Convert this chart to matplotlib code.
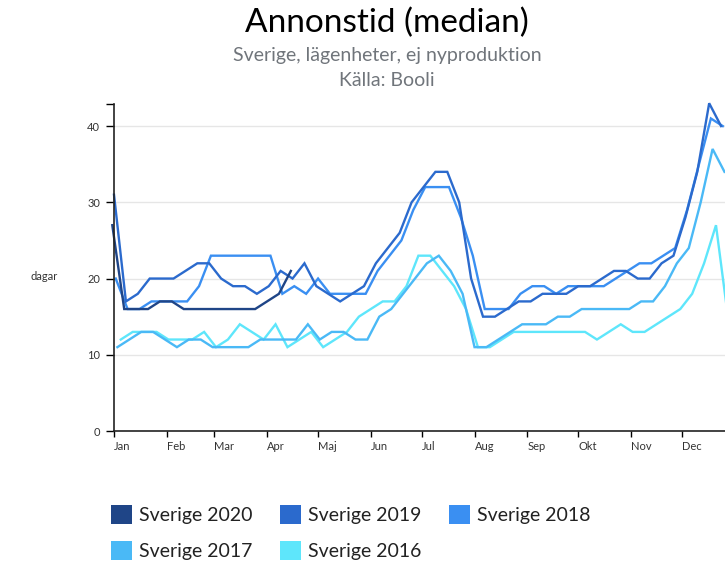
import matplotlib
matplotlib.use('Agg')
import matplotlib.pyplot as plt
import pandas as pd
from matplotlib.patches import Patch

plt.rcParams['font.family'] = ['Lato', 'DejaVu Sans']

# weekly median days on market, one value per week
names = ['Sverige 2020', 'Sverige 2019', 'Sverige 2018', 'Sverige 2017', 'Sverige 2016']
years = [2020, 2019, 2018, 2017, 2016]
first_week = ['2019-12-31', '2019-01-01', '2018-01-02', '2017-01-03', '2016-01-05']
colors = ['#1f4587', '#2b6acd', '#3a8ff2', '#4ab9f6', '#5ee6fb']

v2020 = [27, 16, 16, 16, 17, 17, 16, 16, 16, 16, 16, 16, 16, 17, 18, 21]
v2019 = [31, 17, 18, 20, 20, 20, 21, 22, 22, 20, 19, 19, 18, 19, 21, 20, 22, 19, 18, 17,
         18, 19, 22, 24, 26, 30, 32, 34, 34, 30, 20, 15, 15, 16, 17, 17, 18, 18, 18, 19,
         19, 20, 21, 21, 20, 20, 22, 23, 28, 34, 43, 40]
v2018 = [20, 16, 16, 17, 17, 17, 17, 19, 23, 23, 23, 23, 23, 23, 18, 19, 18, 20, 18, 18,
         18, 18, 21, 23, 25, 29, 32, 32, 32, 28, 23, 16, 16, 16, 18, 19, 19, 18, 19, 19,
         19, 19, 20, 21, 22, 22, 23, 24, 29, 35, 41, 40]
v2017 = [11, 12, 13, 13, 12, 11, 12, 12, 11, 11, 11, 11, 12, 12, 12, 12, 14, 12, 13, 13,
         12, 12, 15, 16, 18, 20, 22, 23, 21, 18, 11, 11, 12, 13, 14, 14, 14, 15, 15, 16,
         16, 16, 16, 16, 17, 17, 19, 22, 24, 30, 37, 34]
v2016 = [12, 13, 13, 13, 12, 12, 12, 13, 11, 12, 14, 13, 12, 14, 11, 12, 13, 11, 12, 13,
         15, 16, 17, 17, 19, 23, 23, 21, 19, 16, 11, 11, 12, 13, 13, 13, 13, 13, 13, 13,
         12, 13, 14, 13, 13, 14, 15, 16, 18, 22, 27, 15]
values = [v2020, v2019, v2018, v2017, v2016]

months = ['Jan', 'Feb', 'Mar', 'Apr', 'Maj', 'Jun', 'Jul', 'Aug', 'Sep', 'Okt', 'Nov', 'Dec']

W, H = 725, 565
fig = plt.figure(figsize=(W / 100, H / 100), dpi=100)
ax = fig.add_axes([114 / W, 1 - 431 / H, 1 - 114 / W, (431 - 104) / H])

# draw oldest first so 2020 ends up on top
for name, yr, start, col, vals in reversed(list(zip(names, years, first_week, colors, values))):
    dates = pd.date_range(start, periods=len(vals), freq='7D')
    x = (dates - pd.Timestamp(f'{yr}-01-01')).days
    ax.plot(x, vals, color=col, lw=1.7, clip_on=False, solid_joinstyle='miter')

ax.set_xlim(0, 359.3)
ax.set_ylim(0, 42.9)

month_starts = pd.date_range('2019-01-01', periods=12, freq='MS')
ax.set_xticks((month_starts - pd.Timestamp('2019-01-01')).days)
ax.set_xticklabels(months, ha='left')
ax.set_yticks([0, 10, 20, 30, 40])
ax.set_yticks([42.9], minor=True)

ax.grid(axis='y', color='#e6e6e6', lw=1)
ax.set_axisbelow(True)
for s in ['top', 'right']:
    ax.spines[s].set_visible(False)
for s in ['left', 'bottom']:
    ax.spines[s].set_color('#222222')
    ax.spines[s].set_linewidth(1.2)

ax.tick_params(axis='y', which='both', length=6, width=1, labelsize=8, pad=4, labelcolor='#333333')
ax.tick_params(axis='x', length=4.5, width=1, labelsize=8, pad=3, labelcolor='#333333')

fig.text(44 / W, 1 - 276 / H, 'dagar', ha='center', va='center', fontsize=8, color='#333333')

fig.text(387 / W, 1 - 23 / H, 'Annonstid (median)', ha='center', va='center',
         fontsize=24, color='black')
fig.text(387 / W, 1 - 56 / H, 'Sverige, lägenheter, ej nyproduktion', ha='center', va='center',
         fontsize=14, color='#70757b')
fig.text(387 / W, 1 - 81 / H, 'Källa: Booli', ha='center', va='center',
         fontsize=14, color='#70757b')

# legend is filled column by column, so reorder to read row-wise
order = [0, 3, 1, 4, 2]
handles = [Patch(facecolor=colors[i], edgecolor='none') for i in order]
labels = [names[i] for i in order]
leg = fig.legend(handles, labels, loc='upper left', bbox_to_anchor=(111 / W, 1 - 505 / H),
                 ncol=3, frameon=False, fontsize=14, handlelength=1.1, handleheight=1.1,
                 handletextpad=0.35, columnspacing=1.4, labelspacing=0.9,
                 borderpad=0, borderaxespad=0)
for t in leg.get_texts():
    t.set_color('#222222')

fig.savefig('out.png', dpi=100)
